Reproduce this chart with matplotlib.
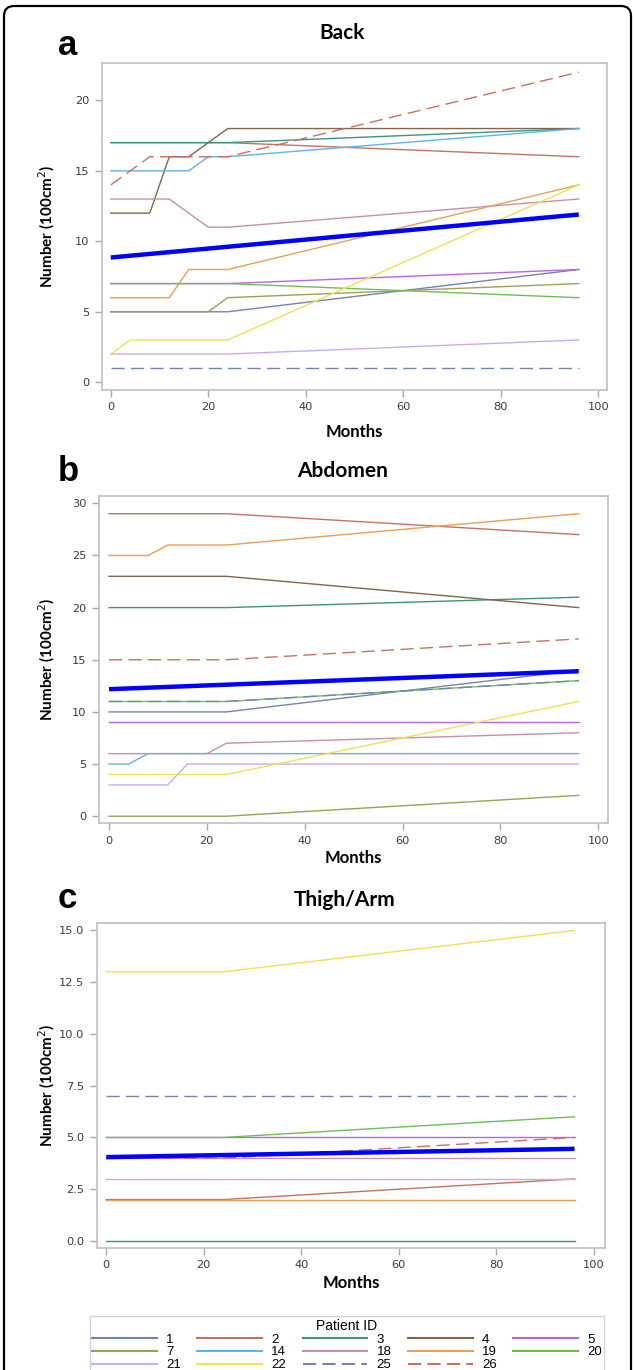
import matplotlib
matplotlib.use("Agg")
import matplotlib.pyplot as plt
from matplotlib.lines import Line2D
from matplotlib.patches import FancyBboxPatch
from matplotlib.transforms import IdentityTransform

plt.rcParams['lines.scale_dashes'] = False

# ---------------- data ----------------
months = [0, 4, 8, 12, 16, 20, 24, 96]
mean_months = [0, 96]

patients = ['1', '2', '3', '4', '5', '7', '14', '18', '19', '20', '21', '22', '25', '26']

back = {
    '1':  [5, 5, 5, 5, 5, 5, 5, 8],
    '2':  [17, 17, 17, 17, 17, 17, 17, 16],
    '3':  [17, 17, 17, 17, 17, 17, 17, 18],
    '4':  [12, 12, 12, 16, 16, 17, 18, 18],
    '5':  [7, 7, 7, 7, 7, 7, 7, 8],
    '7':  [5, 5, 5, 5, 5, 5, 6, 7],
    '14': [15, 15, 15, 15, 15, 16, 16, 18],
    '18': [13, 13, 13, 13, 12, 11, 11, 13],
    '19': [6, 6, 6, 6, 8, 8, 8, 14],
    '20': [7, 7, 7, 7, 7, 7, 7, 6],
    '21': [2, 2, 2, 2, 2, 2, 2, 3],
    '22': [2, 3, 3, 3, 3, 3, 3, 14],
    '25': [1, 1, 1, 1, 1, 1, 1, 1],
    '26': [14, 15, 16, 16, 16, 16, 16, 22],
}
back_mean = [8.85, 11.9]

abdomen = {
    '1':  [10, 10, 10, 10, 10, 10, 10, 14],
    '2':  [29, 29, 29, 29, 29, 29, 29, 27],
    '3':  [20, 20, 20, 20, 20, 20, 20, 21],
    '4':  [23, 23, 23, 23, 23, 23, 23, 20],
    '5':  [9, 9, 9, 9, 9, 9, 9, 9],
    '7':  [0, 0, 0, 0, 0, 0, 0, 2],
    '14': [5, 5, 6, 6, 6, 6, 6, 6],
    '18': [6, 6, 6, 6, 6, 6, 7, 8],
    '19': [25, 25, 25, 26, 26, 26, 26, 29],
    '20': [11, 11, 11, 11, 11, 11, 11, 13],
    '21': [3, 3, 3, 3, 5, 5, 5, 5],
    '22': [4, 4, 4, 4, 4, 4, 4, 11],
    '25': [11, 11, 11, 11, 11, 11, 11, 13],
    '26': [15, 15, 15, 15, 15, 15, 15, 17],
}
abdomen_mean = [12.18, 13.9]

thigh = {
    '2':  [2, 2, 2, 2, 2, 2, 2, 3],
    '3':  [0, 0, 0, 0, 0, 0, 0, 0],
    '5':  [5, 5, 5, 5, 5, 5, 5, 5],
    '18': [4, 4, 4, 4, 4, 4, 4, 4],
    '19': [2, 2, 2, 2, 2, 2, 2, 2],
    '20': [5, 5, 5, 5, 5, 5, 5, 6],
    '21': [3, 3, 3, 3, 3, 3, 3, 3],
    '22': [13, 13, 13, 13, 13, 13, 13, 15],
    '25': [7, 7, 7, 7, 7, 7, 7, 7],
    '26': [4, 4, 4, 4, 4, 4, 4, 5],
}
thigh_mean = [4.05, 4.45]

titles = ['Back', 'Abdomen', 'Thigh/Arm']
letters = ['a', 'b', 'c']
xticks = [0, 20, 40, 60, 80, 100]
yticks_a = [0, 5, 10, 15, 20]
yticks_b = [0, 5, 10, 15, 20, 25, 30]
yticks_c = [0.0, 2.5, 5.0, 7.5, 10.0, 12.5, 15.0]

# ---------------- styles ----------------
colors = {
    '1': '#7482b4', '2': '#c8715f', '3': '#3c9482', '4': '#83654a',
    '5': '#b466e8', '7': '#9aa155', '14': '#5cb3ee', '18': '#c98fa9',
    '19': '#e9a052', '20': '#6cc052', '21': '#cbaaf2', '22': '#f2e052',
    '25': '#7482b4', '26': '#c8715f',
}
dashed = {'25', '26'}
DASH = (0, (9.5, 4.5))

W, H = 634, 1370
fig = plt.figure(figsize=(W / 100, H / 100), dpi=100)


def rect(l, t, r, b):
    return [l / W, 1 - b / H, (r - l) / W, (b - t) / H]


panels = [
    dict(data=back, mean=back_mean, box=(102, 63, 607, 390), xlim=(-1.8, 101.8),
         ylim=(-0.55, 22.65), yticks=yticks_a, fmt='{:g}',
         title_xy=(342, 33), letter_xy=(58, 55), xlabel_y=432),
    dict(data=abdomen, mean=abdomen_mean, box=(99, 496, 608, 823), xlim=(-2.05, 102.0),
         ylim=(-0.65, 30.7), yticks=yticks_b, fmt='{:g}',
         title_xy=(343, 471), letter_xy=(58, 481), xlabel_y=858),
    dict(data=thigh, mean=thigh_mean, box=(97, 923, 605, 1248), xlim=(-1.9, 102.25),
         ylim=(-0.34, 15.36), yticks=yticks_c, fmt='{:.1f}',
         title_xy=(345, 900), letter_xy=(58, 908), xlabel_y=1283),
]

for i, p in enumerate(panels):
    ax = fig.add_axes(rect(*p['box']))
    for pid in patients:
        if pid not in p['data']:
            continue
        ls = DASH if pid in dashed else '-'
        z = 3 if pid in dashed else 2
        ax.plot(months, p['data'][pid], color=colors[pid], lw=1.0, ls=ls, zorder=z)
    ax.plot(mean_months, p['mean'], color='#0000ff', lw=3.2, zorder=4,
            solid_capstyle='butt')
    ax.set_xlim(*p['xlim'])
    ax.set_ylim(*p['ylim'])
    ax.set_xticks(xticks)
    ax.set_yticks(p['yticks'])
    ax.set_yticklabels([p['fmt'].format(v) for v in p['yticks']])
    ax.tick_params(direction='out', length=5, width=1.0, color='#a8a8a8',
                   labelcolor='#3a3a3a', labelsize=8.2, pad=4)
    for s in ax.spines.values():
        s.set_color('#c0c0c0')
        s.set_linewidth(1.2)
    l, t, r, b = p['box']
    fig.text(p['title_xy'][0] / W, 1 - p['title_xy'][1] / H, titles[i],
             family='Lato', weight='bold', fontsize=15, ha='center', va='center')
    fig.text(p['letter_xy'][0] / W, 1 - p['letter_xy'][1] / H, letters[i],
             family='Liberation Sans', weight='bold', fontsize=25, ha='left',
             va='baseline')
    fig.text((l + r) / 2 / W, 1 - p['xlabel_y'] / H, 'Months',
             family='Lato', weight='bold', fontsize=12, ha='center', va='center')
    fig.text(47 / W, 1 - (t + b) / 2 / H, 'Number (100cm$^2$)',
             family='Lato', weight='bold', fontsize=11, ha='center', va='center',
             rotation=90)

# ---------------- legend ----------------
order = ['1', '7', '21', '2', '14', '22', '3', '18', '25', '4', '19', '26', '5', '20']
handles = [Line2D([], [], color=colors[pid], lw=1.5,
                  ls=DASH if pid in dashed else '-') for pid in order]
leg = fig.legend(handles, order, ncol=5, title='Patient ID', loc='upper center',
                 bbox_to_anchor=(347 / W, 1 - 1316 / H), frameon=True,
                 fancybox=False, edgecolor='#c8c8c8', fontsize=9.5,
                 title_fontsize=10, handlelength=4.9, handletextpad=0.7,
                 columnspacing=1.25, labelspacing=0.05, borderpad=0.2,
                 borderaxespad=0)
leg.get_frame().set_linewidth(1.0)
for txt in leg.get_texts():
    txt.set_family('Liberation Sans')
leg.get_title().set_family('Liberation Sans')

# outer rounded border
border = FancyBboxPatch((4, -30), 627, 1364 + 30, boxstyle='round,pad=0,rounding_size=10',
                        transform=IdentityTransform(), fill=False,
                        edgecolor='black', lw=1.6)
fig.patches.append(border)

fig.savefig('out.png', dpi=100)
